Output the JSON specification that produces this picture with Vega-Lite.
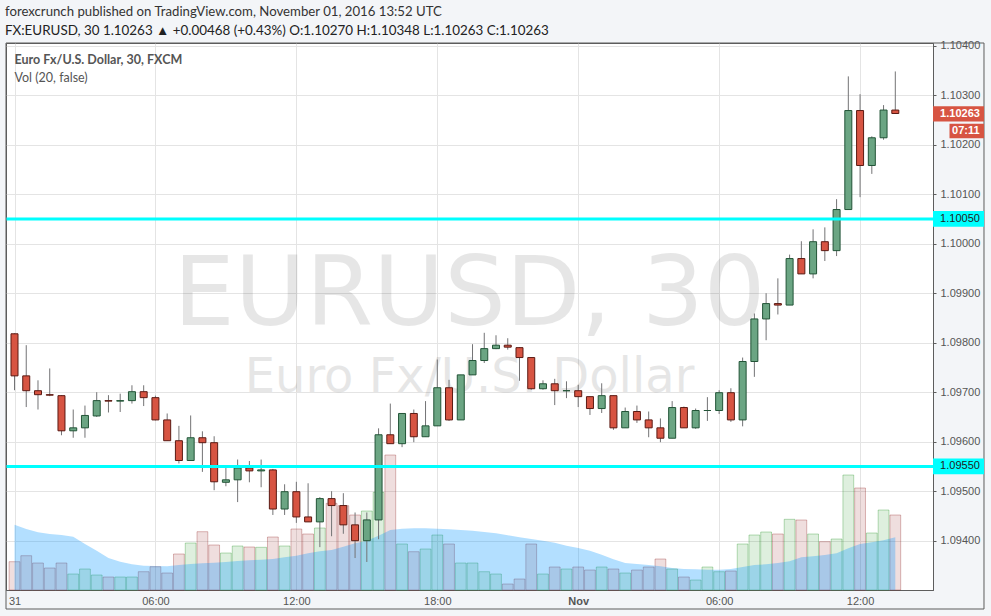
{
  "$schema": "https://vega.github.io/schema/vega-lite/v6.json",
  "width": 927,
  "height": 547,
  "autosize": {"type": "none"},
  "padding": {"left": 6, "top": 43, "right": 58, "bottom": 26},
  "background": "#f3f5f8",
  "title": {
    "text": "forexcrunch published on TradingView.com, November 01, 2016 13:52 UTC",
    "subtitle": "FX:EURUSD, 30  1.10263 ▲ +0.00468 (+0.43%)  O:1.10270  H:1.10348  L:1.10263  C:1.10263",
    "anchor": "start",
    "frame": "group",
    "font": "Lato",
    "fontSize": 13.2,
    "fontWeight": "normal",
    "color": "#333333",
    "subtitleFont": "Lato",
    "subtitleFontSize": 13.4,
    "subtitleColor": "#222222",
    "subtitlePadding": 5,
    "offset": 1,
    "dx": -1
  },
  "config": {
    "view": {"fill": "#ffffff", "stroke": "#5d5d5d", "strokeWidth": 1},
    "axis": {"labelFont": "Liberation Sans", "labelFontSize": 11, "labelColor": "#555555", "gridColor": "#e4e4e4", "gridWidth": 1, "domainColor": "#5d5d5d", "tickColor": "#5d5d5d"}
  },
  "data": {"values": [
    {"t": "2016-10-31T00:00:00Z", "o": 1.09818, "h": 1.09819, "l": 1.09704, "c": 1.09733, "v": 283, "ma": 653},
    {"t": "2016-10-31T00:30:00Z", "o": 1.09733, "h": 1.09795, "l": 1.09670, "c": 1.09703, "v": 343, "ma": 610},
    {"t": "2016-10-31T01:00:00Z", "o": 1.09703, "h": 1.09724, "l": 1.09665, "c": 1.09695, "v": 270, "ma": 577},
    {"t": "2016-10-31T01:30:00Z", "o": 1.09695, "h": 1.09748, "l": 1.09692, "c": 1.09694, "v": 220, "ma": 560},
    {"t": "2016-10-31T02:00:00Z", "o": 1.09693, "h": 1.09694, "l": 1.09613, "c": 1.09622, "v": 270, "ma": 550},
    {"t": "2016-10-31T02:30:00Z", "o": 1.09622, "h": 1.09665, "l": 1.09608, "c": 1.09628, "v": 160, "ma": 533},
    {"t": "2016-10-31T03:00:00Z", "o": 1.09628, "h": 1.09673, "l": 1.09608, "c": 1.09653, "v": 210, "ma": 460},
    {"t": "2016-10-31T03:30:00Z", "o": 1.09652, "h": 1.09700, "l": 1.09650, "c": 1.09683, "v": 150, "ma": 393},
    {"t": "2016-10-31T04:00:00Z", "o": 1.09683, "h": 1.09694, "l": 1.09659, "c": 1.09682, "v": 130, "ma": 320},
    {"t": "2016-10-31T04:30:00Z", "o": 1.09682, "h": 1.09697, "l": 1.09660, "c": 1.09683, "v": 130, "ma": 283},
    {"t": "2016-10-31T05:00:00Z", "o": 1.09683, "h": 1.09714, "l": 1.09677, "c": 1.09701, "v": 130, "ma": 257},
    {"t": "2016-10-31T05:30:00Z", "o": 1.09701, "h": 1.09714, "l": 1.09672, "c": 1.09689, "v": 183, "ma": 243},
    {"t": "2016-10-31T06:00:00Z", "o": 1.09689, "h": 1.09693, "l": 1.09643, "c": 1.09644, "v": 233, "ma": 240},
    {"t": "2016-10-31T06:30:00Z", "o": 1.09644, "h": 1.09657, "l": 1.09602, "c": 1.09602, "v": 170, "ma": 237},
    {"t": "2016-10-31T07:00:00Z", "o": 1.09602, "h": 1.09632, "l": 1.09556, "c": 1.09562, "v": 360, "ma": 250},
    {"t": "2016-10-31T07:30:00Z", "o": 1.09562, "h": 1.09653, "l": 1.09562, "c": 1.09608, "v": 470, "ma": 260},
    {"t": "2016-10-31T08:00:00Z", "o": 1.09608, "h": 1.09621, "l": 1.09539, "c": 1.09598, "v": 583, "ma": 267},
    {"t": "2016-10-31T08:30:00Z", "o": 1.09598, "h": 1.09611, "l": 1.09502, "c": 1.09519, "v": 450, "ma": 273},
    {"t": "2016-10-31T09:00:00Z", "o": 1.09518, "h": 1.09547, "l": 1.09510, "c": 1.09523, "v": 370, "ma": 280},
    {"t": "2016-10-31T09:30:00Z", "o": 1.09523, "h": 1.09564, "l": 1.09478, "c": 1.09547, "v": 440, "ma": 290},
    {"t": "2016-10-31T10:00:00Z", "o": 1.09547, "h": 1.09561, "l": 1.09518, "c": 1.09541, "v": 430, "ma": 297},
    {"t": "2016-10-31T10:30:00Z", "o": 1.09541, "h": 1.09564, "l": 1.09508, "c": 1.09543, "v": 427, "ma": 303},
    {"t": "2016-10-31T11:00:00Z", "o": 1.09543, "h": 1.09545, "l": 1.09452, "c": 1.09464, "v": 530, "ma": 310},
    {"t": "2016-10-31T11:30:00Z", "o": 1.09464, "h": 1.09514, "l": 1.09452, "c": 1.09499, "v": 440, "ma": 327},
    {"t": "2016-10-31T12:00:00Z", "o": 1.09499, "h": 1.09519, "l": 1.09436, "c": 1.09448, "v": 610, "ma": 343},
    {"t": "2016-10-31T12:30:00Z", "o": 1.09448, "h": 1.09516, "l": 1.09438, "c": 1.09438, "v": 560, "ma": 367},
    {"t": "2016-10-31T13:00:00Z", "o": 1.09438, "h": 1.09488, "l": 1.09387, "c": 1.09485, "v": 620, "ma": 387},
    {"t": "2016-10-31T13:30:00Z", "o": 1.09485, "h": 1.09500, "l": 1.09409, "c": 1.09471, "v": 867, "ma": 400},
    {"t": "2016-10-31T14:00:00Z", "o": 1.09471, "h": 1.09496, "l": 1.09414, "c": 1.09432, "v": 843, "ma": 433},
    {"t": "2016-10-31T14:30:00Z", "o": 1.09432, "h": 1.09457, "l": 1.09365, "c": 1.09400, "v": 750, "ma": 467},
    {"t": "2016-10-31T15:00:00Z", "o": 1.09400, "h": 1.09457, "l": 1.09357, "c": 1.09442, "v": 790, "ma": 493},
    {"t": "2016-10-31T15:30:00Z", "o": 1.09442, "h": 1.09627, "l": 1.09403, "c": 1.09614, "v": 977, "ma": 543},
    {"t": "2016-10-31T16:00:00Z", "o": 1.09614, "h": 1.09677, "l": 1.09596, "c": 1.09596, "v": 1350, "ma": 600},
    {"t": "2016-10-31T16:30:00Z", "o": 1.09596, "h": 1.09657, "l": 1.09589, "c": 1.09657, "v": 460, "ma": 613},
    {"t": "2016-10-31T17:00:00Z", "o": 1.09657, "h": 1.09665, "l": 1.09599, "c": 1.09610, "v": 383, "ma": 617},
    {"t": "2016-10-31T17:30:00Z", "o": 1.09610, "h": 1.09682, "l": 1.09610, "c": 1.09632, "v": 410, "ma": 617},
    {"t": "2016-10-31T18:00:00Z", "o": 1.09632, "h": 1.09766, "l": 1.09632, "c": 1.09709, "v": 550, "ma": 613},
    {"t": "2016-10-31T18:30:00Z", "o": 1.09709, "h": 1.09725, "l": 1.09642, "c": 1.09644, "v": 460, "ma": 607},
    {"t": "2016-10-31T19:00:00Z", "o": 1.09644, "h": 1.09735, "l": 1.09644, "c": 1.09735, "v": 270, "ma": 600},
    {"t": "2016-10-31T19:30:00Z", "o": 1.09735, "h": 1.09797, "l": 1.09735, "c": 1.09764, "v": 270, "ma": 593},
    {"t": "2016-10-31T20:00:00Z", "o": 1.09764, "h": 1.09820, "l": 1.09759, "c": 1.09788, "v": 183, "ma": 580},
    {"t": "2016-10-31T20:30:00Z", "o": 1.09788, "h": 1.09815, "l": 1.09787, "c": 1.09795, "v": 160, "ma": 567},
    {"t": "2016-10-31T21:00:00Z", "o": 1.09795, "h": 1.09809, "l": 1.09786, "c": 1.09791, "v": 60, "ma": 547},
    {"t": "2016-10-31T21:30:00Z", "o": 1.09790, "h": 1.09791, "l": 1.09723, "c": 1.09770, "v": 110, "ma": 527},
    {"t": "2016-10-31T22:00:00Z", "o": 1.09770, "h": 1.09770, "l": 1.09705, "c": 1.09707, "v": 460, "ma": 510},
    {"t": "2016-10-31T22:30:00Z", "o": 1.09707, "h": 1.09724, "l": 1.09705, "c": 1.09717, "v": 160, "ma": 493},
    {"t": "2016-10-31T23:00:00Z", "o": 1.09717, "h": 1.09727, "l": 1.09674, "c": 1.09703, "v": 230, "ma": 473},
    {"t": "2016-10-31T23:30:00Z", "o": 1.09703, "h": 1.09722, "l": 1.09688, "c": 1.09703, "v": 210, "ma": 443},
    {"t": "2016-11-01T00:00:00Z", "o": 1.09703, "h": 1.09715, "l": 1.09670, "c": 1.09691, "v": 230, "ma": 420},
    {"t": "2016-11-01T00:30:00Z", "o": 1.09691, "h": 1.09691, "l": 1.09654, "c": 1.09667, "v": 200, "ma": 393},
    {"t": "2016-11-01T01:00:00Z", "o": 1.09667, "h": 1.09718, "l": 1.09658, "c": 1.09693, "v": 230, "ma": 353},
    {"t": "2016-11-01T01:30:00Z", "o": 1.09693, "h": 1.09693, "l": 1.09624, "c": 1.09628, "v": 210, "ma": 307},
    {"t": "2016-11-01T02:00:00Z", "o": 1.09628, "h": 1.09669, "l": 1.09628, "c": 1.09661, "v": 170, "ma": 270},
    {"t": "2016-11-01T02:30:00Z", "o": 1.09661, "h": 1.09673, "l": 1.09638, "c": 1.09644, "v": 200, "ma": 260},
    {"t": "2016-11-01T03:00:00Z", "o": 1.09644, "h": 1.09661, "l": 1.09609, "c": 1.09628, "v": 230, "ma": 250},
    {"t": "2016-11-01T03:30:00Z", "o": 1.09628, "h": 1.09647, "l": 1.09599, "c": 1.09607, "v": 310, "ma": 237},
    {"t": "2016-11-01T04:00:00Z", "o": 1.09607, "h": 1.09682, "l": 1.09607, "c": 1.09669, "v": 210, "ma": 220},
    {"t": "2016-11-01T04:30:00Z", "o": 1.09669, "h": 1.09671, "l": 1.09628, "c": 1.09628, "v": 130, "ma": 210},
    {"t": "2016-11-01T05:00:00Z", "o": 1.09628, "h": 1.09667, "l": 1.09626, "c": 1.09663, "v": 100, "ma": 207},
    {"t": "2016-11-01T05:30:00Z", "o": 1.09663, "h": 1.09690, "l": 1.09642, "c": 1.09663, "v": 230, "ma": 203},
    {"t": "2016-11-01T06:00:00Z", "o": 1.09663, "h": 1.09704, "l": 1.09656, "c": 1.09699, "v": 183, "ma": 203},
    {"t": "2016-11-01T06:30:00Z", "o": 1.09699, "h": 1.09708, "l": 1.09640, "c": 1.09644, "v": 190, "ma": 210},
    {"t": "2016-11-01T07:00:00Z", "o": 1.09644, "h": 1.09770, "l": 1.09631, "c": 1.09762, "v": 460, "ma": 230},
    {"t": "2016-11-01T07:30:00Z", "o": 1.09762, "h": 1.09859, "l": 1.09731, "c": 1.09848, "v": 550, "ma": 250},
    {"t": "2016-11-01T08:00:00Z", "o": 1.09848, "h": 1.09900, "l": 1.09805, "c": 1.09879, "v": 580, "ma": 257},
    {"t": "2016-11-01T08:30:00Z", "o": 1.09879, "h": 1.09930, "l": 1.09857, "c": 1.09876, "v": 560, "ma": 270},
    {"t": "2016-11-01T09:00:00Z", "o": 1.09876, "h": 1.09978, "l": 1.09876, "c": 1.09970, "v": 707, "ma": 287},
    {"t": "2016-11-01T09:30:00Z", "o": 1.09970, "h": 1.10005, "l": 1.09939, "c": 1.09939, "v": 700, "ma": 327},
    {"t": "2016-11-01T10:00:00Z", "o": 1.09939, "h": 1.10029, "l": 1.09930, "c": 1.10004, "v": 560, "ma": 337},
    {"t": "2016-11-01T10:30:00Z", "o": 1.10004, "h": 1.10033, "l": 1.09965, "c": 1.09986, "v": 483, "ma": 350},
    {"t": "2016-11-01T11:00:00Z", "o": 1.09986, "h": 1.10090, "l": 1.09975, "c": 1.10069, "v": 510, "ma": 367},
    {"t": "2016-11-01T11:30:00Z", "o": 1.10069, "h": 1.10338, "l": 1.10069, "c": 1.10269, "v": 1150, "ma": 417},
    {"t": "2016-11-01T12:00:00Z", "o": 1.10269, "h": 1.10302, "l": 1.10094, "c": 1.10158, "v": 1020, "ma": 460},
    {"t": "2016-11-01T12:30:00Z", "o": 1.10158, "h": 1.10217, "l": 1.10141, "c": 1.10214, "v": 570, "ma": 477},
    {"t": "2016-11-01T13:00:00Z", "o": 1.10214, "h": 1.10280, "l": 1.10210, "c": 1.10270, "v": 800, "ma": 497},
    {"t": "2016-11-01T13:30:00Z", "o": 1.10270, "h": 1.10348, "l": 1.10263, "c": 1.10263, "v": 750, "ma": 527}
  ]},
  "layer": [
    {
      "layer": [
        {
          "mark": {"type": "bar", "size": 10.8, "strokeWidth": 1, "fillOpacity": 0.13, "strokeOpacity": 0.28},
          "encoding": {
            "x": {
              "field": "t", "type": "temporal",
              "scale": {"type": "utc", "padding": 0, "domain": [
                {"year": 2016, "month": 10, "date": 30, "hours": 23, "minutes": 38, "seconds": 17, "utc": true},
                {"year": 2016, "month": 11, "date": 1, "hours": 15, "minutes": 6, "seconds": 18, "utc": true}
              ]},
              "axis": {
                "title": null,
                "values": [
                  {"year": 2016, "month": 10, "date": 31, "hours": 0, "utc": true},
                  {"year": 2016, "month": 10, "date": 31, "hours": 6, "utc": true},
                  {"year": 2016, "month": 10, "date": 31, "hours": 12, "utc": true},
                  {"year": 2016, "month": 10, "date": 31, "hours": 18, "utc": true},
                  {"year": 2016, "month": 11, "date": 1, "hours": 0, "utc": true},
                  {"year": 2016, "month": 11, "date": 1, "hours": 6, "utc": true},
                  {"year": 2016, "month": 11, "date": 1, "hours": 12, "utc": true}
                ],
                "labelExpr": "utchours(datum.value) == 0 ? (utcdate(datum.value) == 1 ? 'Nov' : '' + utcdate(datum.value)) : utcFormat(datum.value, '%H:%M')",
                "labelFontWeight": {"condition": {"test": "utchours(datum.value) == 0 && utcdate(datum.value) == 1", "value": "bold"}, "value": "normal"},
                "ticks": false,
                "labelPadding": 5,
                "labelFlush": false,
                "labelOverlap": false,
                "grid": true
              }
            },
            "y": {"field": "v", "type": "quantitative", "scale": {"domain": [0, 5470], "nice": false, "zero": true}, "axis": null},
            "fill": {"condition": {"test": "datum.c >= datum.o", "value": "#008000"}, "value": "#800000"},
            "stroke": {"condition": {"test": "datum.c >= datum.o", "value": "#008000"}, "value": "#800000"}
          }
        },
        {
          "mark": {"type": "area", "color": "#0496ff", "opacity": 0.3},
          "encoding": {
            "x": {"field": "t", "type": "temporal"},
            "y": {"field": "ma", "type": "quantitative"}
          }
        }
      ]
    },
    {
      "layer": [
        {
          "data": {"values": [{}]},
          "mark": {"type": "text", "text": "EURUSD, 30", "font": "DejaVu Sans", "fontSize": 97, "color": "#000000", "opacity": 0.095, "align": "center", "baseline": "alphabetic"},
          "encoding": {"y": {"datum": 1.09836, "type": "quantitative"}}
        },
        {
          "data": {"values": [{}]},
          "mark": {"type": "text", "text": "Euro Fx/U.S. Dollar", "font": "DejaVu Sans", "fontSize": 48, "color": "#000000", "opacity": 0.095, "align": "center", "baseline": "alphabetic"},
          "encoding": {"y": {"datum": 1.097004, "type": "quantitative"}}
        },
        {
          "mark": {"type": "rule", "color": "#737375", "strokeWidth": 1},
          "encoding": {
            "x": {"field": "t", "type": "temporal"},
            "y": {
              "field": "l", "type": "quantitative",
              "scale": {"domain": [1.093004, 1.1040545], "nice": false, "zero": false},
              "axis": {
                "title": null,
                "orient": "right",
                "values": [1.094, 1.095, 1.096, 1.097, 1.098, 1.099, 1.100, 1.101, 1.102, 1.103, 1.104],
                "format": ".5f",
                "tickSize": 3,
                "labelPadding": 4,
                "labelOverlap": false,
                "labelFlush": false,
                "labelBound": false,
                "grid": true
              }
            },
            "y2": {"field": "h"}
          }
        },
        {
          "mark": {"type": "bar", "size": 7, "strokeWidth": 1},
          "encoding": {
            "x": {"field": "t", "type": "temporal"},
            "y": {"field": "o", "type": "quantitative"},
            "y2": {"field": "c"},
            "fill": {"condition": {"test": "datum.c >= datum.o", "value": "#6ba583"}, "value": "#d75442"},
            "stroke": {"condition": {"test": "datum.c >= datum.o", "value": "#225437"}, "value": "#5b1a13"}
          }
        },
        {
          "data": {"values": [{"level": 1.1005}, {"level": 1.0955}]},
          "mark": {"type": "rule", "color": "#00ffff", "strokeWidth": 3},
          "encoding": {"y": {"field": "level", "type": "quantitative"}}
        },
        {
          "data": {"values": [{}]},
          "mark": {"type": "text", "text": "Euro Fx/U.S. Dollar, 30, FXCM", "font": "Lato", "fontSize": 12.5, "fontWeight": "bold", "color": "#555555", "align": "left", "baseline": "middle", "clip": false},
          "encoding": {
            "x": {"datum": {"year": 2016, "month": 10, "date": 31, "hours": 0, "utc": true}, "type": "temporal"},
            "y": {"datum": 1.10371, "type": "quantitative"}
          }
        },
        {
          "data": {"values": [{}]},
          "mark": {"type": "text", "text": "Vol (20, false)", "font": "Lato", "fontSize": 12.5, "color": "#555555", "align": "left", "baseline": "middle", "clip": false},
          "encoding": {
            "x": {"datum": {"year": 2016, "month": 10, "date": 31, "hours": 0, "utc": true}, "type": "temporal"},
            "y": {"datum": 1.103347, "type": "quantitative"}
          }
        },
        {
          "data": {"values": [{}]},
          "mark": {"type": "rect", "filled": false, "stroke": "#5d5d5d", "strokeWidth": 1, "clip": false},
          "encoding": {
            "x": {"datum": {"year": 2016, "month": 10, "date": 30, "hours": 23, "minutes": 38, "seconds": 17, "utc": true}, "type": "temporal"},
            "x2": {"datum": {"year": 2016, "month": 11, "date": 1, "hours": 17, "minutes": 16, "seconds": 33, "utc": true}},
            "y": {"datum": 1.1040545, "type": "quantitative"},
            "y2": {"datum": 1.09262}
          }
        },
        {
          "data": {"values": [{}]},
          "mark": {"type": "rect", "color": "#d75442", "clip": false},
          "encoding": {
            "x": {"datum": {"year": 2016, "month": 11, "date": 1, "hours": 15, "minutes": 6, "seconds": 18, "utc": true}, "type": "temporal"},
            "x2": {"datum": {"year": 2016, "month": 11, "date": 1, "hours": 17, "minutes": 16, "seconds": 33, "utc": true}},
            "y": {"datum": 1.102775, "type": "quantitative"},
            "y2": {"datum": 1.10247}
          }
        },
        {
          "data": {"values": [{}]},
          "mark": {"type": "rect", "color": "#d75442", "clip": false},
          "encoding": {
            "x": {"datum": {"year": 2016, "month": 11, "date": 1, "hours": 15, "minutes": 48, "seconds": 28, "utc": true}, "type": "temporal"},
            "x2": {"datum": {"year": 2016, "month": 11, "date": 1, "hours": 17, "minutes": 16, "seconds": 33, "utc": true}},
            "y": {"datum": 1.102424, "type": "quantitative"},
            "y2": {"datum": 1.102129}
          }
        },
        {
          "data": {"values": [{}]},
          "mark": {"type": "rect", "color": "#00ffff", "clip": false},
          "encoding": {
            "x": {"datum": {"year": 2016, "month": 11, "date": 1, "hours": 15, "minutes": 6, "seconds": 18, "utc": true}, "type": "temporal"},
            "x2": {"datum": {"year": 2016, "month": 11, "date": 1, "hours": 17, "minutes": 16, "seconds": 33, "utc": true}},
            "y": {"datum": 1.10066, "type": "quantitative"},
            "y2": {"datum": 1.10034}
          }
        },
        {
          "data": {"values": [{}]},
          "mark": {"type": "rect", "color": "#00ffff", "clip": false},
          "encoding": {
            "x": {"datum": {"year": 2016, "month": 11, "date": 1, "hours": 15, "minutes": 6, "seconds": 18, "utc": true}, "type": "temporal"},
            "x2": {"datum": {"year": 2016, "month": 11, "date": 1, "hours": 17, "minutes": 16, "seconds": 33, "utc": true}},
            "y": {"datum": 1.09566, "type": "quantitative"},
            "y2": {"datum": 1.09534}
          }
        },
        {
          "data": {"values": [{}]},
          "mark": {"type": "text", "text": "1.10263", "font": "Liberation Sans", "fontSize": 11, "fontWeight": "bold", "color": "#ffffff", "align": "center", "baseline": "middle", "clip": false},
          "encoding": {
            "x": {"datum": {"year": 2016, "month": 11, "date": 1, "hours": 16, "minutes": 15, "seconds": 15, "utc": true}, "type": "temporal"},
            "y": {"datum": 1.10263, "type": "quantitative"}
          }
        },
        {
          "data": {"values": [{}]},
          "mark": {"type": "text", "text": "07:11", "font": "Liberation Sans", "fontSize": 11, "fontWeight": "bold", "color": "#ffffff", "align": "center", "baseline": "middle", "clip": false},
          "encoding": {
            "x": {"datum": {"year": 2016, "month": 11, "date": 1, "hours": 16, "minutes": 30, "seconds": 8, "utc": true}, "type": "temporal"},
            "y": {"datum": 1.102277, "type": "quantitative"}
          }
        },
        {
          "data": {"values": [{}]},
          "mark": {"type": "text", "text": "1.10050", "font": "Liberation Sans", "fontSize": 11, "color": "#222222", "align": "center", "baseline": "middle", "clip": false},
          "encoding": {
            "x": {"datum": {"year": 2016, "month": 11, "date": 1, "hours": 16, "minutes": 15, "seconds": 15, "utc": true}, "type": "temporal"},
            "y": {"datum": 1.1005, "type": "quantitative"}
          }
        },
        {
          "data": {"values": [{}]},
          "mark": {"type": "text", "text": "1.09550", "font": "Liberation Sans", "fontSize": 11, "color": "#222222", "align": "center", "baseline": "middle", "clip": false},
          "encoding": {
            "x": {"datum": {"year": 2016, "month": 11, "date": 1, "hours": 16, "minutes": 15, "seconds": 15, "utc": true}, "type": "temporal"},
            "y": {"datum": 1.0955, "type": "quantitative"}
          }
        }
      ]
    }
  ],
  "resolve": {"scale": {"y": "independent"}}
}
